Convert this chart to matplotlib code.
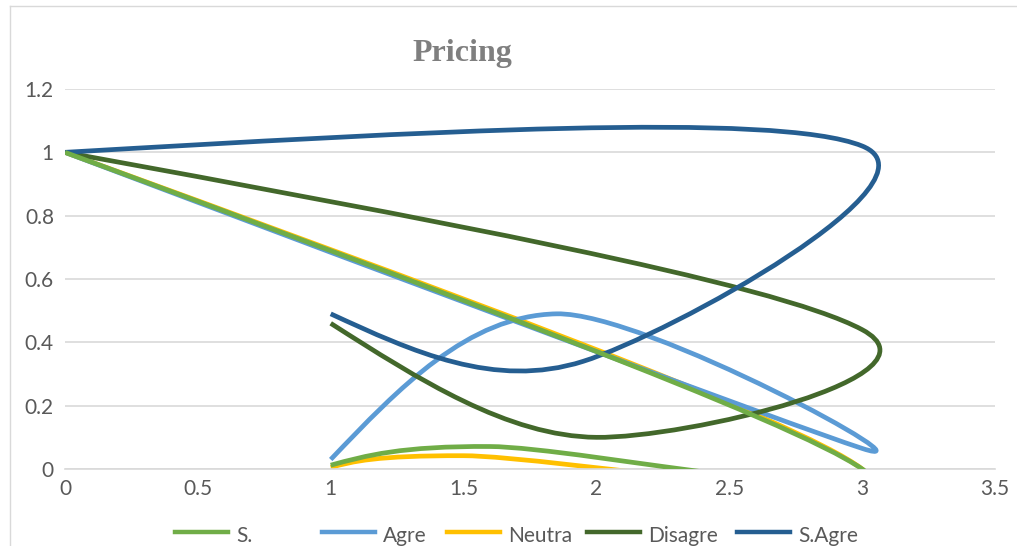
import numpy as np
import matplotlib
matplotlib.use("Agg")
import matplotlib.pyplot as plt
from matplotlib.path import Path
from matplotlib.patches import PathPatch
from matplotlib.lines import Line2D

# series points (scatter with smoothed lines, Excel style)
series_names = ["S.", "Agre", "Neutra", "Disagre", "S.Agre"]
s_x = [0, 3, 1.6, 1]
s_y = [1, 0, 0.071, 0.012]
agre_x = [0, 3, 1.85, 1]
agre_y = [1, 0.065, 0.49, 0.03]
neutra_x = [0, 3, 1.5, 1]
neutra_y = [1, 0, 0.042, 0.005]
disagre_x = [0, 3, 2, 1]
disagre_y = [1, 0.44, 0.1, 0.46]
sagre_x = [0, 3, 1.95, 1]
sagre_y = [1, 1.02, 0.34, 0.49]

x_ticks = [0, 0.5, 1, 1.5, 2, 2.5, 3, 3.5]
x_labels = ["0", "0.5", "1", "1.5", "2", "2.5", "3", "3.5"]
y_ticks = [0, 0.2, 0.4, 0.6, 0.8, 1.0, 1.2]
y_labels = ["0", "0.2", "0.4", "0.6", "0.8", "1", "1.2"]

colors = ["#70AD47", "#5B9BD5", "#FFC000", "#43682B", "#255E91"]
TEXT = "#595959"
GRID = "#D9D9D9"
FONT = ["Lato", "DejaVu Sans"]


def smooth_path(xs, ys, f=1 / 6):
    pts = np.column_stack([xs, ys]).astype(float)
    n = len(pts)
    tang = np.zeros_like(pts)
    for i in range(1, n - 1):
        tang[i] = f * (pts[i + 1] - pts[i - 1])
    verts = [pts[0]]
    codes = [Path.MOVETO]
    for i in range(n - 1):
        c1 = pts[i] + tang[i]
        c2 = pts[i + 1] - tang[i + 1]
        if i == 0:
            c1 = (pts[0] + c2) / 2
        if i == n - 2:
            c2 = (pts[-1] + c1) / 2
        verts += [c1, c2, pts[i + 1]]
        codes += [Path.CURVE4] * 3
    return Path(verts, codes)


fig = plt.figure(figsize=(10.17, 5.46), dpi=100)
ax = fig.add_axes([65 / 1017, 1 - 469 / 546, 930 / 1017, 380 / 546])

data = [(s_x, s_y), (agre_x, agre_y), (neutra_x, neutra_y),
        (disagre_x, disagre_y), (sagre_x, sagre_y)]
zorders = [6, 3, 2, 4, 5]
for (xs, ys), c, z in zip(data, colors, zorders):
    patch = PathPatch(smooth_path(xs, ys), facecolor="none", edgecolor=c,
                      lw=3.4, zorder=z, capstyle="butt", joinstyle="round")
    ax.add_patch(patch)

ax.set_xlim(0, 3.5)
ax.set_ylim(0, 1.2)
ax.set_xticks(x_ticks)
ax.set_xticklabels(x_labels)
ax.set_yticks(y_ticks)
ax.set_yticklabels(y_labels)
ax.tick_params(length=0, labelsize=15, labelcolor=TEXT)
ax.tick_params(axis="x", pad=7)
ax.tick_params(axis="y", pad=8)
for lab in ax.get_xticklabels() + ax.get_yticklabels():
    lab.set_family(FONT)
ax.grid(axis="y", color=GRID, lw=1.2)
ax.set_axisbelow(True)
for side in ["top", "right", "left"]:
    ax.spines[side].set_visible(False)
ax.spines["bottom"].set_color(GRID)
ax.spines["bottom"].set_linewidth(1.2)

fig.text(462 / 1017, 1 - 54 / 546, "Pricing", ha="center", va="center",
         fontsize=23, fontweight="bold", color="#7F7F7F",
         family=["Liberation Serif", "DejaVu Serif"])

# chart area border (cut at right and bottom)
fig.add_artist(Line2D([9.5 / 1017, 9.5 / 1017], [0, 1 - 5.5 / 546],
                      color=GRID, lw=1))
fig.add_artist(Line2D([9.5 / 1017, 1], [1 - 5.5 / 546, 1 - 5.5 / 546],
                      color=GRID, lw=1))

# legend, partly cut off at the bottom like the reference
swatch_x = [175, 322, 447, 587, 737]
for name, c, sx in zip(series_names, colors, swatch_x):
    fig.add_artist(Line2D([sx / 1017, (sx + 53) / 1017],
                          [1 - 532 / 546, 1 - 532 / 546], color=c, lw=3.2))
    fig.text((sx + 61) / 1017, 1 - 542 / 546, name, ha="left",
             va="baseline", fontsize=15, color=TEXT, family=FONT)

fig.savefig("out.png", dpi=100)
